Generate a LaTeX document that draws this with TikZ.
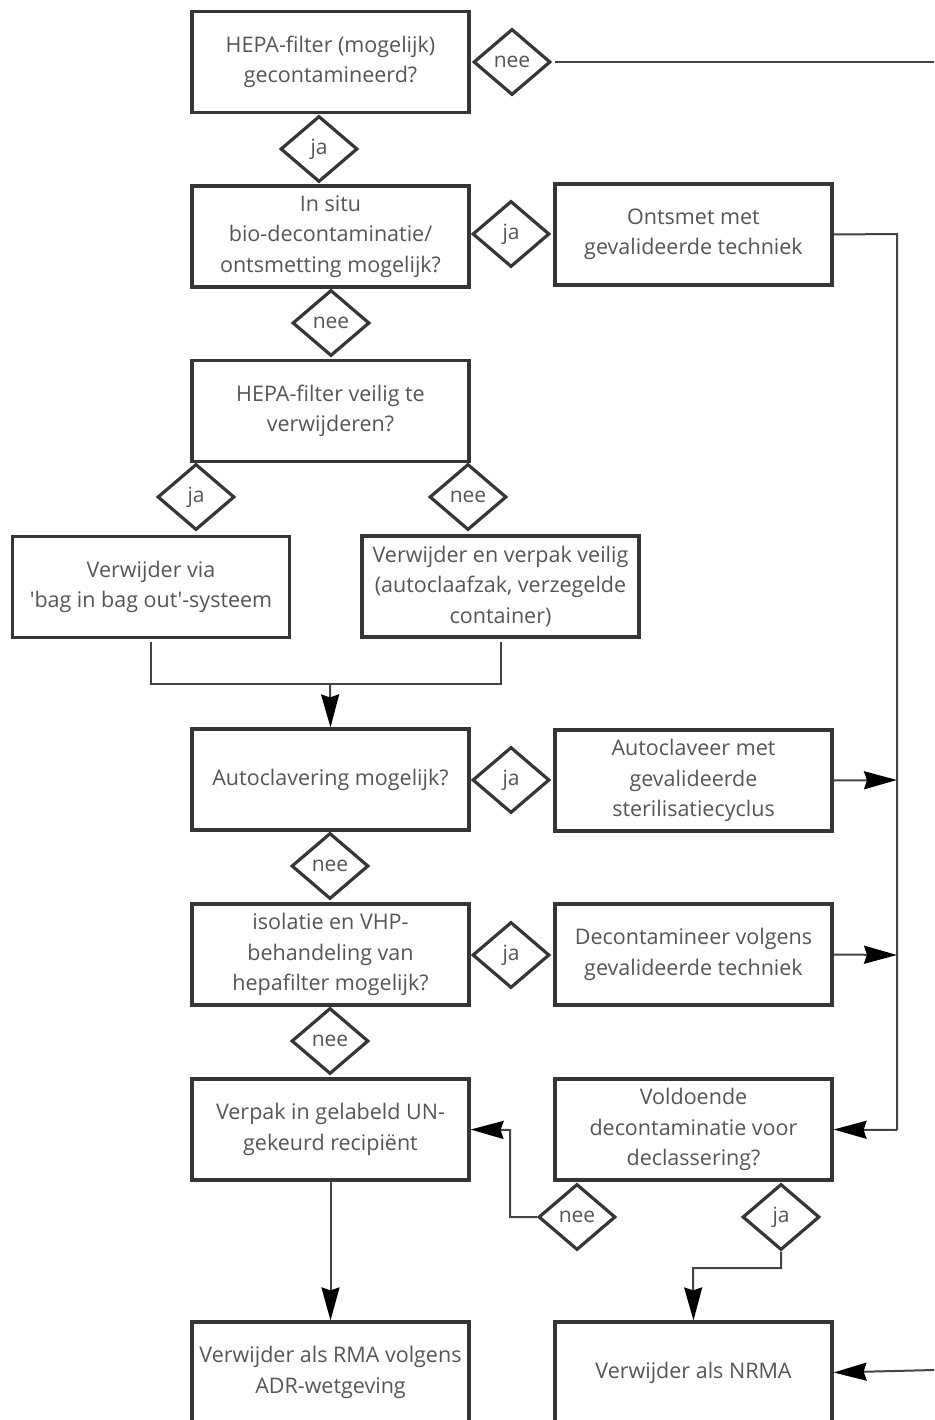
\documentclass[tikz,border=0pt]{standalone}
\usepackage{fontspec}
\setmainfont{Open Sans}
\usetikzlibrary{shapes.geometric,arrows.meta}
\definecolor{txt}{HTML}{555555}
\definecolor{bord}{HTML}{363636}
\definecolor{conn}{HTML}{444444}
\begin{document}
\begin{tikzpicture}[x=1pt,y=-1pt,
  box/.style={draw=bord,line width=3.2pt,rectangle,minimum width=277pt,minimum height=101pt,
    inner sep=0pt,align=center,text=txt,font=\fontsize{21.5}{30.5}\selectfont},
  dia/.style={draw=bord,line width=3.2pt,diamond,minimum width=77pt,minimum height=66pt,
    inner sep=0pt,text=txt,font=\fontsize{21}{24}\selectfont},
  conn/.style={draw=conn,line width=2pt},
  arr/.style={conn,-{Stealth[length=33pt,width=18pt,inset=3pt,color=black]}}
]
\useasboundingbox (0,0) rectangle (934,1420);
\clip (0,0) rectangle (934,1420);
% boxes
\node[box] (b1) at (330.5,62) {HEPA-filter (mogelijk)\\gecontamineerd?};
\node[box] (b2) at (330.5,236.5) {In situ\\bio-decontaminatie/\\ontsmetting mogelijk?};
\node[box] (b2r) at (693.5,234.5) {Ontsmet met\\gevalideerde techniek};
\node[box] (b3) at (330.5,411) {HEPA-filter veilig te\\verwijderen?};
\node[box] (b4) at (151,587) {Verwijder via\\\textquotesingle bag in bag out\textquotesingle -systeem};
\node[box] (b5) at (500.5,586.5) {Verwijder en verpak veilig\\(autoclaafzak, verzegelde\\container)};
\node[box] (b6) at (330.5,779.5) {Autoclavering mogelijk?};
\node[box] (b7) at (693.5,780.5) {Autoclaveer met\\gevalideerde\\sterilisatiecyclus};
\node[box] (b8) at (330.5,954.5) {isolatie en VHP-\\behandeling van\\hepafilter mogelijk?};
\node[box] (b9) at (693.5,954.5) {Decontamineer volgens\\gevalideerde techniek};
\node[box] (b10) at (330.5,1129.5) {Verpak in gelabeld UN-\\gekeurd recipiënt};
\node[box] (b11) at (693.5,1129.5) {Voldoende\\decontaminatie voor\\declassering?};
\node[box] (b12) at (693.5,1372.5) {Verwijder als NRMA};
\node[box] (b13) at (330.5,1372.5) {Verwijder als RMA volgens\\ADR-wetgeving};
% diamonds
\node[dia] (d1nee) at (512,62) {nee};
\node[dia] (d1ja) at (319,149) {ja};
\node[dia] (d2ja) at (511,234) {ja};
\node[dia] (d2nee) at (331,323) {nee};
\node[dia] (d3ja) at (196,497) {ja};
\node[dia] (d3nee) at (468,497) {nee};
\node[dia] (d6ja) at (511,780) {ja};
\node[dia] (d6nee) at (330,866) {nee};
\node[dia] (d8ja) at (511,955) {ja};
\node[dia] (d8nee) at (330,1041) {nee};
\node[dia] (d11nee) at (577,1217) {nee};
\node[dia] (d11ja) at (781,1217) {ja};
% coordinates
\coordinate (topout) at (934,62);
\coordinate (botin) at (934,1370);
\coordinate (rail) at (897,234);
\coordinate (railb) at (897,1130);
\coordinate (r7) at (897,780);
\coordinate (r9) at (897,955);
\coordinate (mrg) at (330,684);
% connectors
\draw[conn] ([xshift=3pt]d1nee.east) -- (topout);
\draw[conn] (b2r.east) -- (rail) -- (railb);
\draw[arr] (railb) -- (b11.east);
\draw[arr] (b7.east) -- (r7);
\draw[arr] (b9.east) -- (r9);
\draw[conn] ([yshift=-3pt]b4.south) -- (b4.south |- mrg) -- (b5.south |- mrg) -- ([yshift=-3pt]b5.south);
\draw[arr] (mrg) -- (b6.north);
\draw[arr] (d11nee.west) -- (510,1217) -- (510,1130) -- (b10.east);
\draw[arr] (d11ja.south) -- (781,1268) -- (693,1268) -- (b12.north);
\draw[arr] (b10.south) -- (b13.north);
\draw[arr] (botin) -- (b12.east);
\end{tikzpicture}
\end{document}
